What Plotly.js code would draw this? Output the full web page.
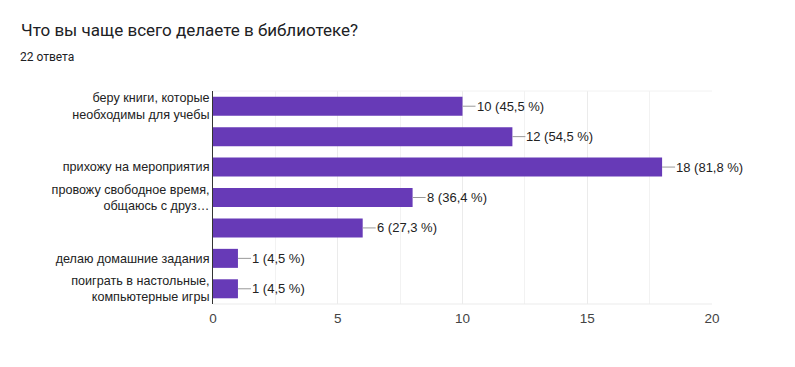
<!DOCTYPE html>
<html>
<head>
<meta charset="utf-8">
<script src="https://cdn.plot.ly/plotly-3.0.1.min.js"></script>
<style>html,body{margin:0;padding:0;background:#fff;}#chart{width:795px;height:367px;}</style>
</head>
<body>
<div id="chart"></div>
<script>
const categories = [
  "беру книги, которые<br>необходимы для учебы",
  "",
  "прихожу на мероприятия",
  "провожу свободное время,<br>общаюсь с друз…",
  "",
  "делаю домашние задания",
  "поиграть в настольные,<br>компьютерные игры"
];
const values = [10, 12, 18, 8, 6, 1, 1];
const totalResponses = 22;
const xTicks = [0, 5, 10, 15, 20];

const idx = categories.map((c, i) => i);
const labels = values.map(v => v + " (" + (v / totalResponses * 100).toFixed(1).replace('.', ',') + " %)");

const trace = {
  type: 'bar',
  orientation: 'h',
  x: values,
  y: idx,
  marker: {color: '#673ab7'},
  hoverinfo: 'none'
};

const annotations = values.map((v, i) => ({
  x: v, y: i, xref: 'x', yref: 'y',
  text: labels[i],
  showarrow: true, arrowhead: 0, arrowwidth: 1, arrowcolor: '#999999',
  ax: 13, ay: 0, xanchor: 'left', yanchor: 'middle',
  standoff: 0, borderpad: 0,
  font: {family: 'Liberation Sans, Arial, sans-serif', size: 13, color: '#222222'}
}));

annotations.push({
  xref: 'paper', yref: 'paper', x: (18 - 213) / 499, y: 1.16,
  xanchor: 'left', yanchor: 'middle', showarrow: false,
  text: '22 ответа',
  font: {family: 'Roboto, sans-serif', size: 12, color: '#202124'}
});

const layout = {
  width: 795, height: 367,
  margin: {l: 213, r: 83, t: 91, b: 63},
  paper_bgcolor: '#ffffff', plot_bgcolor: '#ffffff',
  showlegend: false,
  bargap: 0.375,
  title: {
    text: 'Что вы чаще всего делаете в библиотеке?',
    x: 21 / 795, xref: 'container', xanchor: 'left',
    y: 1 - 30 / 367, yref: 'container', yanchor: 'middle',
    font: {family: 'Roboto, sans-serif', size: 17, color: '#202124'}
  },
  xaxis: {
    range: [0, 20],
    tickvals: xTicks,
    ticktext: xTicks.map(String),
    showgrid: true, gridcolor: '#ebebeb', gridwidth: 1,
    minor: {dtick: 2.5, showgrid: true, gridcolor: '#f2f2f2', gridwidth: 1},
    zeroline: false, showline: false,
    ticks: '', ticklabelstandoff: 4,
    tickfont: {family: 'Liberation Sans, Arial, sans-serif', size: 13.5, color: '#444444'},
    fixedrange: true
  },
  yaxis: {
    range: [6.5, -0.5],
    tickvals: idx, ticktext: categories,
    showgrid: false, zeroline: false,
    showline: true, linecolor: '#333333', linewidth: 1,
    ticks: '', ticklabelstandoff: 0,
    tickfont: {family: 'Liberation Sans, Arial, sans-serif', size: 12.6, color: '#222222'},
    fixedrange: true
  },
  shapes: [{
    type: 'line', xref: 'paper', yref: 'paper', x0: 0, x1: 1, y0: 0, y1: 0,
    line: {color: '#ebebeb', width: 1}
  }, {
    type: 'line', xref: 'paper', yref: 'paper', x0: 0, x1: 1, y0: 1, y1: 1,
    line: {color: '#f2f2f2', width: 1}
  }],
  annotations: annotations
};

Plotly.newPlot('chart', [trace], layout, {displayModeBar: false, staticPlot: true});
</script>
</body>
</html>
